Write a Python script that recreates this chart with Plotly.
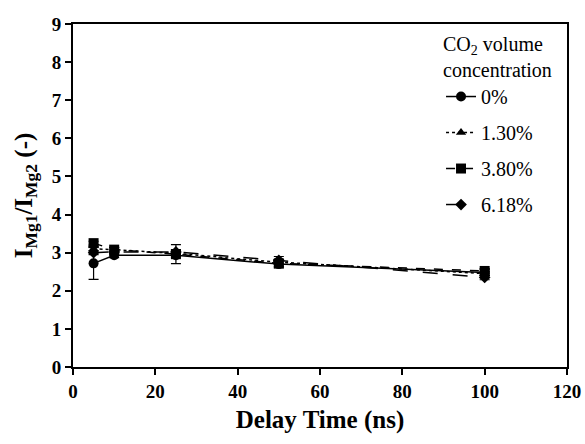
import plotly.graph_objects as go

delay = [5, 10, 25, 50, 100]
series_names = ["0%", "1.30%", "3.80%", "6.18%"]
ratio_0 = [2.72, 2.93, 2.93, 2.70, 2.48]
err_0 = [0.42, 0.06, 0.05, 0.10, 0.08]
ratio_130 = [3.10, 3.08, 2.98, 2.75, 2.45]
err_130 = [0.06, 0.05, 0.06, 0.06, 0.06]
ratio_380 = [3.25, 3.08, 2.96, 2.72, 2.52]
err_380 = [0.05, 0.06, 0.25, 0.08, 0.06]
ratio_618 = [3.00, 3.02, 3.02, 2.80, 2.35]
err_618 = [0.05, 0.05, 0.06, 0.10, 0.06]
x_ticks = [0, 20, 40, 60, 80, 100, 120]
y_ticks = [0, 1, 2, 3, 4, 5, 6, 7, 8, 9]

values = [ratio_0, ratio_130, ratio_380, ratio_618]
errors = [err_0, err_130, err_380, err_618]
symbols = ["circle", "triangle-up", "square", "diamond"]
dashes = ["solid", "dot", "dash", "longdash"]
sizes = [10, 9, 10, 9]

FONT = "Liberation Serif"

fig = go.Figure()
for name, v, e, s, d, sz in zip(series_names, values, errors, symbols, dashes, sizes):
    fig.add_trace(go.Scatter(
        x=delay, y=v, name=name, mode="lines+markers",
        line=dict(color="black", width=1.5, dash=d),
        marker=dict(symbol=s, size=sz, color="black"),
        error_y=dict(type="data", array=e, visible=True, color="black", thickness=1.2, width=5),
        legendgroup=name,
    ))

fig.update_layout(
    width=585, height=444,
    margin=dict(l=73, r=18, t=24, b=77),
    paper_bgcolor="white", plot_bgcolor="white",
    font=dict(family=FONT, color="black", size=20),
    showlegend=True,
    legend=dict(
        x=0.745, y=0.997, xanchor="left", yanchor="top",
        bgcolor="rgba(255,255,255,0)",
        font=dict(family=FONT, size=20, color="black"),
        title=dict(text="CO<sub>2</sub> volume<br>concentration", font=dict(family=FONT, size=20)),
        tracegroupgap=7,
        itemwidth=30,
    ),
    xaxis=dict(
        range=[0, 120], tickmode="array", tickvals=x_ticks,
        automargin=False,
        showline=True, linecolor="black", linewidth=2, mirror=True,
        ticks="outside", ticklen=6, tickwidth=2, tickcolor="black",
        showgrid=False, zeroline=False,
        tickfont=dict(family=FONT, size=19, color="black", weight="bold"),
        title=dict(text="<b>Delay Time (ns)</b>", font=dict(family=FONT, size=25), standoff=10),
    ),
    yaxis=dict(
        range=[0, 9], tickmode="array", tickvals=y_ticks,
        automargin=False,
        showline=True, linecolor="black", linewidth=2, mirror=True,
        ticks="outside", ticklen=6, tickwidth=2, tickcolor="black",
        showgrid=False, zeroline=False,
        tickfont=dict(family=FONT, size=19, color="black", weight="bold"),
        title=dict(text="<b>I<sub>Mg1</sub>/I<sub>Mg2</sub> (-)</b>", font=dict(family=FONT, size=25), standoff=12),
    ),
)

fig.write_html("out.html")
